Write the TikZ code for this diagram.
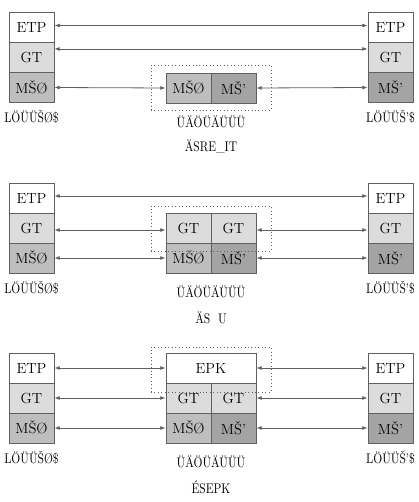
\documentclass[tikz,border=0pt]{standalone}
\usepackage{fontspec}
\usetikzlibrary{arrows.meta}
\definecolor{cwhite}{HTML}{FFFFFF}
\definecolor{clight}{HTML}{DCDCDC}
\definecolor{cmid}{HTML}{BEBEBE}
\definecolor{cdark}{HTML}{A4A4A4}
\definecolor{cline}{HTML}{606060}
\tikzset{
  cell/.style={draw=cline, line width=0.6pt, minimum width=33.75pt, minimum height=22.5pt, inner sep=0pt, font=\fontsize{11}{13}\selectfont},
  widecell/.style={cell, minimum width=67.5pt},
  topc/.style={fill=cwhite},
  midc/.style={fill=clight},
  lowl/.style={fill=cmid},
  lowr/.style={fill=cdark},
  dotbox/.style={draw=cline, dotted, line width=0.6pt, minimum width=90pt, minimum height=33.75pt, inner sep=0pt},
  arr/.style={draw=cline, line width=0.6pt, {Latex[length=4pt,width=3pt]}-{Latex[length=4pt,width=3pt]}},
  lbl/.style={inner sep=0pt, font=\fontsize{10.5}{12}\selectfont}
}
\newcommand{\nrw}[1]{\scalebox{0.82}[1]{#1}}
\begin{document}
\begin{tikzpicture}[x=0.75pt,y=-0.75pt]
\useasboundingbox (0,0) rectangle (418,502);
% ---------- panel 1 ----------
\node[cell,topc] (L1a) at (31.5,27.5) {ETP};
\node[cell,midc] (L1b) at (31.5,57.5) {GT};
\node[cell,lowl] (L1c) at (31.5,87.5) {MŠØ};
\node[cell,topc] (R1a) at (390.5,27.5) {ETP};
\node[cell,midc] (R1b) at (390.5,57.5) {GT};
\node[cell,lowr] (R1c) at (390.5,87.5) {MŠ'};
\node[dotbox] (D1) at (211,87.5) {};
\node[cell,lowl] (M1l) at (188.5,88) {MŠØ};
\node[cell,lowr] (M1r) at (233.5,88) {MŠ'};
\draw[arr] ([yshift=1.5pt]L1a.east) -- ([yshift=1.5pt]R1a.west);
\draw[arr] ([yshift=6.4pt]L1b.east) -- ([yshift=6.4pt]R1b.west);
\draw[arr] (L1c.east) -- (M1l.west);
\draw[arr] (M1r.east) -- (R1c.west);
\node[lbl] (HL1) at (31.5,117) {\nrw{LÖÜÜŠØ\$}};
\node[lbl] (HR1) at (390.5,117) {\nrw{LÖÜÜŠ'\$}};
\node[lbl] (N1) at (211,122) {\nrw{ÜÄÖÜÄÜÜÜ}};
\node[lbl] (T1) at (211,147) {\nrw{ÄSRE\_IT}};
% ---------- panel 2 ----------
\node[cell,topc] (L2a) at (31.5,198) {ETP};
\node[cell,midc] (L2b) at (31.5,228) {GT};
\node[cell,lowl] (L2c) at (31.5,258) {MŠØ};
\node[cell,topc] (R2a) at (390.5,198) {ETP};
\node[cell,midc] (R2b) at (390.5,228) {GT};
\node[cell,lowr] (R2c) at (390.5,258) {MŠ'};
\node[cell,midc] (M2a) at (188.5,228) {GT};
\node[cell,midc] (M2b) at (233.5,228) {GT};
\node[cell,lowl] (M2c) at (188.5,258) {MŠØ};
\node[cell,lowr] (M2d) at (233.5,258) {MŠ'};
\node[dotbox] (D2) at (211,228.5) {};
\draw[arr] ([yshift=1.5pt]L2a.east) -- ([yshift=1.5pt]R2a.west);
\draw[arr] ([yshift=-1.5pt]L2b.east) -- ([yshift=-1.5pt]M2a.west);
\draw[arr] ([yshift=-1.5pt]M2b.east) -- ([yshift=-1.5pt]R2b.west);
\draw[arr] (L2c.east) -- (M2c.west);
\draw[arr] (M2d.east) -- (R2c.west);
\node[lbl] (HL2) at (31.5,288) {\nrw{LÖÜÜŠØ\$}};
\node[lbl] (HR2) at (390.5,288) {\nrw{LÖÜÜŠ'\$}};
\node[lbl] (N2) at (211,292) {\nrw{ÜÄÖÜÄÜÜÜ}};
\node[lbl] (T2) at (211,318) {\nrw{ÄS\ \ U}};
% ---------- panel 3 ----------
\node[cell,topc] (L3a) at (31.5,368) {ETP};
\node[cell,midc] (L3b) at (31.5,398) {GT};
\node[cell,lowl] (L3c) at (31.5,428) {MŠØ};
\node[cell,topc] (R3a) at (390.5,368) {ETP};
\node[cell,midc] (R3b) at (390.5,398) {GT};
\node[cell,lowr] (R3c) at (390.5,428) {MŠ'};
\node[widecell,topc] (M3a) at (211,368) {EPK};
\node[cell,midc] (M3b) at (188.5,398) {GT};
\node[cell,midc] (M3c) at (233.5,398) {GT};
\node[cell,lowl] (M3d) at (188.5,428) {MŠØ};
\node[cell,lowr] (M3e) at (233.5,428) {MŠ'};
\node[dotbox] (D3) at (211,369.5) {};
\draw[arr] (L3a.east) -- (M3a.west);
\draw[arr] (M3a.east) -- (R3a.west);
\draw[arr] (L3b.east) -- (M3b.west);
\draw[arr] (M3c.east) -- (R3b.west);
\draw[arr] (L3c.east) -- (M3d.west);
\draw[arr] (M3e.east) -- (R3c.west);
\node[lbl] (HL3) at (31.5,458) {\nrw{LÖÜÜŠØ\$}};
\node[lbl] (HR3) at (390.5,458) {\nrw{LÖÜÜŠ'\$}};
\node[lbl] (N3) at (211,462) {\nrw{ÜÄÖÜÄÜÜÜ}};
\node[lbl] (T3) at (211,487) {\nrw{ÉSEPK}};
\end{tikzpicture}
\end{document}
